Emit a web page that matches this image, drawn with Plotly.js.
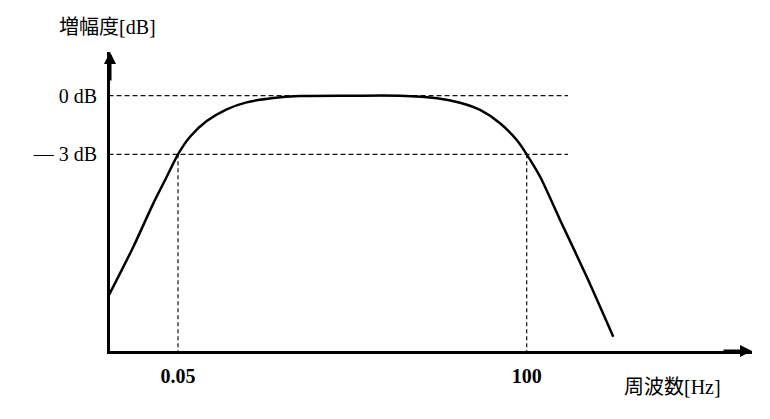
<!DOCTYPE html>
<html>
<head>
<meta charset="utf-8">
<script src="https://cdn.plot.ly/plotly-3.0.1.min.js"></script>
<style>html,body{margin:0;padding:0;background:#fff;}</style>
</head>
<body>
<div id="chart" style="width:770px;height:419px;"></div>
<script>
// Frequency response (log frequency in Hz, gain in dB)
const freqHz = [0.0110, 0.0189, 0.0292, 0.0391, 0.05, 0.065, 0.0935, 0.1445, 0.223, 0.40, 0.71, 2.1, 6.3, 14.2, 23.4, 36.2, 55.9, 80.5, 100, 134, 207, 370, 660];
const gainDb = [-10.25, -7.73, -5.51, -4.15, -3.0, -2.10, -1.30, -0.70, -0.34, -0.12, -0.02, 0, 0, -0.13, -0.36, -0.73, -1.41, -2.27, -3.0, -4.15, -6.36, -9.27, -12.34];
// cutoff frequencies and reference levels
const cutoffHz = [0.05, 100];
const cutoffLabels = ['0.05', '100'];
const levelDb = [0, -3];
const levelLabels = ['0 dB', '— 3 dB'];
const xTitle = '周波数[Hz]';
const yTitle = '増幅度[dB]';

const xMinLog = -1.9448, xMaxLog = 4.133;
const yMin = -13.07, yMax = 2.238;
const guideStartHz = 0.0110, guideEndHz = 246;

const serif = 'Liberation Serif, Noto Sans CJK JP, serif';
const traces = [];
levelDb.forEach(v => traces.push({
  x: [guideStartHz, guideEndHz], y: [v, v], mode: 'lines', hoverinfo: 'skip',
  line: {color: '#111', width: 1.3, dash: '5px,3px'}
}));
cutoffHz.forEach(f => traces.push({
  x: [f, f], y: [levelDb[1], yMin], mode: 'lines', hoverinfo: 'skip',
  line: {color: '#111', width: 1.2, dash: '4px,3px'}
}));
traces.push({
  x: freqHz, y: gainDb, mode: 'lines',
  line: {color: '#000', width: 2.5, shape: 'spline', smoothing: 0.8}
});

const layout = {
  width: 770, height: 419,
  margin: {l: 110, r: 18, t: 52, b: 68},
  paper_bgcolor: '#fff', plot_bgcolor: '#fff',
  showlegend: false,
  xaxis: {
    type: 'log', range: [xMinLog, xMaxLog],
    showgrid: false, zeroline: false,
    showline: true, linecolor: '#000', linewidth: 3,
    tickvals: cutoffHz, ticktext: cutoffLabels, ticks: '',
    ticklabelstandoff: 5,
    tickfont: {family: serif, size: 20, color: '#000', weight: 'bold'}
  },
  yaxis: {
    range: [yMin, yMax],
    showgrid: false, zeroline: false,
    showline: true, linecolor: '#000', linewidth: 3,
    tickvals: levelDb, ticktext: levelLabels, ticks: '',
    ticklabelstandoff: 6,
    tickfont: {family: serif, size: 20, color: '#000'}
  },
  annotations: [
    {x: xMaxLog, y: yMin, xref: 'x', yref: 'y', ax: -30, ay: 0, axref: 'pixel', ayref: 'pixel',
     text: '', showarrow: true, arrowhead: 2, arrowsize: 0.8, arrowwidth: 3, arrowcolor: '#000'},
    {x: xMinLog, y: yMax, xref: 'x', yref: 'y', ax: 0, ay: 30, axref: 'pixel', ayref: 'pixel',
     text: '', showarrow: true, arrowhead: 2, arrowsize: 0.8, arrowwidth: 3, arrowcolor: '#000'},
    {x: -0.0826, y: 1.0846, xref: 'paper', yref: 'paper', xanchor: 'left', yanchor: 'middle',
     text: yTitle, showarrow: false, font: {family: serif, size: 20, color: '#000'}},
    {x: 0.797, y: -0.119, xref: 'paper', yref: 'paper', xanchor: 'left', yanchor: 'middle',
     text: xTitle, showarrow: false, font: {family: serif, size: 20, color: '#000'}}
  ]
};

Plotly.newPlot('chart', traces, layout, {displayModeBar: false, staticPlot: true});
</script>
</body>
</html>
